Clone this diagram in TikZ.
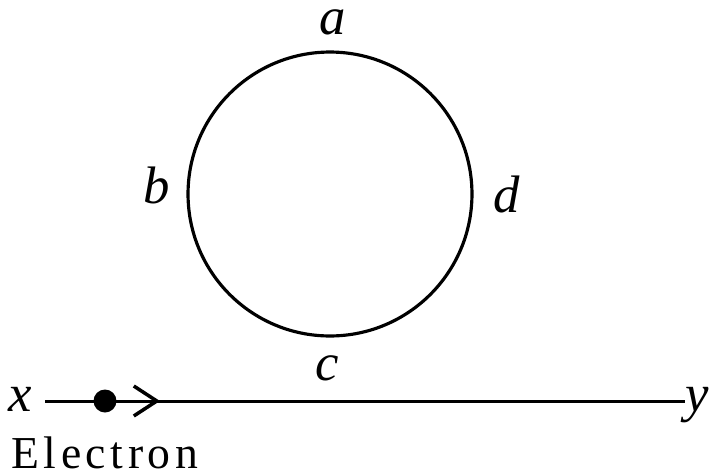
\documentclass[tikz,border=0pt]{standalone}
\usepackage{fontspec}
\setmainfont{Liberation Serif}
\newfontfamily\spacedfont[LetterSpace=10]{Liberation Serif}
\usetikzlibrary{arrows.meta, positioning}

\begin{document}
\begin{tikzpicture}[
  x=0.02cm, y=-0.02cm,
  lbl/.style={font=\fontsize{30}{34}\selectfont\itshape, inner sep=0pt, anchor=base},
  wire/.style={line width=1.7pt},
  barb/.style={line width=1.7pt, -{Straight Barb[length=4.6mm, width=6mm, line width=2pt]}}
]
\useasboundingbox (0,0) rectangle (710,474);
\node[draw, circle, line width=1.8pt, minimum size=5.68cm, inner sep=0pt] (loop) at (330,194) {};
\node[lbl] (a) at (333,34) {a};
\node[lbl] (b) at (157,203) {b};
\node[lbl] (d) at (507,212) {d};
\node[lbl] (c) at (327,380) {c};
\node[lbl] (xl) at (20,411) {x};
\node[lbl] (yl) at (697,411) {y};
\node[circle, fill, minimum size=4.6mm, inner sep=0pt] (e) at (105,401) {};
\coordinate (tip) at (160,401);
\node[font=\spacedfont\fontsize{26}{30}\selectfont, anchor=base west, inner sep=0pt] (elabel) at (11,468) {Electron};

\draw[wire] ([xshift=0.26cm]xl.east |- e) -- (yl.west |- e);
\draw[barb] (e) -- (tip);
\end{tikzpicture}
\end{document}
